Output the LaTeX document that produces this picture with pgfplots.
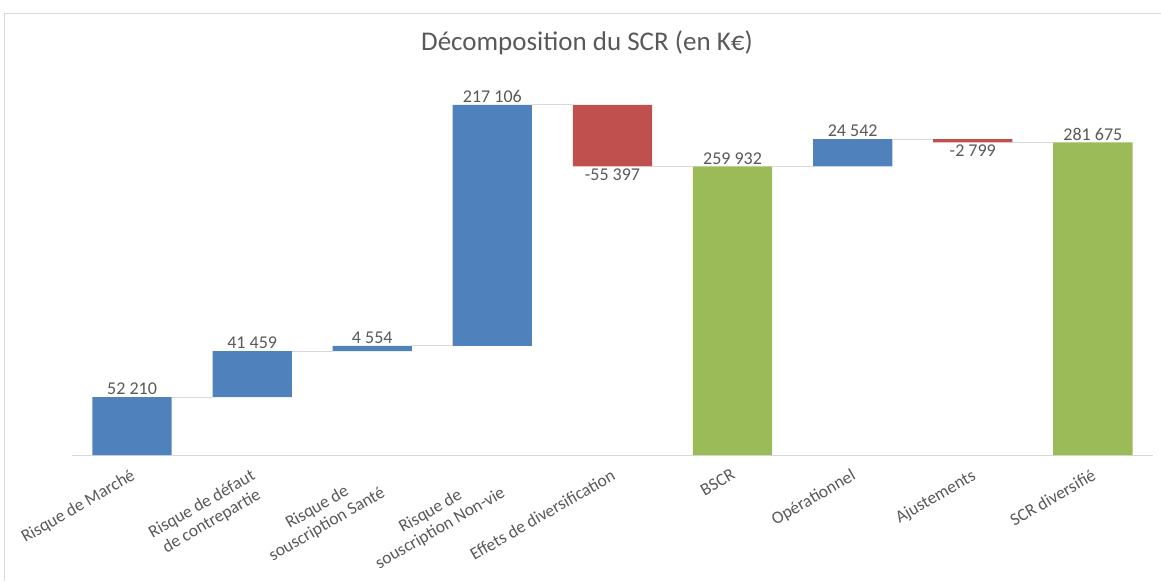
\documentclass[border=0pt]{standalone}
\usepackage{pgfplots}
\pgfplotsset{compat=1.18}
\usepackage{fontspec}
\setmainfont{Carlito}

\definecolor{upblue}{HTML}{4F81BD}
\definecolor{downred}{HTML}{C0504D}
\definecolor{totgreen}{HTML}{9BBB59}
\definecolor{txtgray}{HTML}{595959}
\definecolor{linegray}{HTML}{D9D9D9}

% common geometry: 1pt = 1px of the reference
\pgfplotsset{
  wf/.style={
    scale only axis,
    width=1081pt, height=388.5pt,
    xmin=-0.5, xmax=8.5,
    ymin=0, ymax=350000,
    at={(72pt,126pt)}, anchor=south west,
  }
}

\begin{document}
\begin{tikzpicture}
\useasboundingbox (0,0) rectangle (1161pt,581pt);
\draw[linegray, line width=1pt] (4pt,0) -- (4pt,567pt) -- (1161pt,567pt);

\node[font=\fontsize{27}{32}\selectfont, text=txtgray] at (587pt,538pt) {Décomposition du SCR (en K€)};

% bars: invisible base + up / down / total
\begin{axis}[
  wf,
  ybar stacked,
  bar width=0.66,
  axis x line*=bottom,
  axis y line=none,
  x axis line style={linegray, line width=1pt, -},
  xtick={0,1,2,3,4,5,6,7,8},
  xticklabels={Risque de Marché, Risque de défaut\\de contrepartie, Risque de\\souscription Santé, Risque de\\souscription Non-vie, Effets de diversification, BSCR, Opérationnel, Ajustements, SCR diversifié},
  major tick length=0pt,
  xticklabel style={rotate=30, anchor=north east, align=center,
    font=\fontsize{17.5}{19.5}\selectfont, text=txtgray, xshift=-5pt, yshift=-7pt},
  ytick=\empty,
]
% base
\addplot[draw=none, fill=none] coordinates {
  (0,0) (1,52210) (2,93669) (3,98223) (4,259932) (5,0) (6,259932) (7,281675) (8,0)};
% hausse
\addplot[draw=none, fill=upblue] coordinates {
  (0,52210) (1,41459) (2,4554) (3,217106) (4,0) (5,0) (6,24542) (7,0) (8,0)};
% baisse
\addplot[draw=none, fill=downred] coordinates {
  (0,0) (1,0) (2,0) (3,0) (4,55397) (5,0) (6,0) (7,2799) (8,0)};
% totaux
\addplot[draw=none, fill=totgreen] coordinates {
  (0,0) (1,0) (2,0) (3,0) (4,0) (5,259932) (6,0) (7,0) (8,281675)};
\end{axis}

% connectors and data labels
\begin{axis}[
  wf,
  hide axis,
  unbounded coords=jump,
]
\addplot[linegray, line width=1pt, mark=none] coordinates {
  (0.33,52210) (0.67,52210) (0.67,inf)
  (1.33,93669) (1.67,93669) (1.67,inf)
  (2.33,98223) (2.67,98223) (2.67,inf)
  (3.33,315329) (3.67,315329) (3.67,inf)
  (4.33,259932) (4.67,259932) (4.67,inf)
  (5.33,259932) (5.67,259932) (5.67,inf)
  (6.33,284474) (6.67,284474) (6.67,inf)
  (7.33,281675) (7.67,281675)};

\addplot[only marks, mark=none, point meta=explicit symbolic,
  nodes near coords,
  nodes near coords style={font=\fontsize{18}{20}\selectfont, text=txtgray, anchor=south, inner sep=2pt}]
  coordinates {
  (0,52210) [52\ 210]
  (1,93669) [41\ 459]
  (2,98223) [4\ 554]
  (3,315329) [217\ 106]
  (5,259932) [259\ 932]
  (6,284474) [24\ 542]
  (8,281675) [281\ 675]};

\addplot[only marks, mark=none, point meta=explicit symbolic,
  nodes near coords,
  nodes near coords style={font=\fontsize{18}{20}\selectfont, text=txtgray, anchor=north, inner sep=2pt}]
  coordinates {
  (4,259932) [-55\ 397]
  (7,281675) [-2\ 799]};
\end{axis}
\end{tikzpicture}
\end{document}
